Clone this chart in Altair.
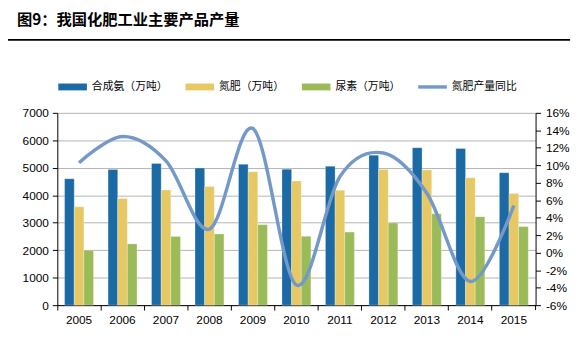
import altair as alt
import pandas as pd

years = ["2005", "2006", "2007", "2008", "2009", "2010", "2011", "2012", "2013", "2014", "2015"]
series_names = ["合成氨（万吨）", "氮肥（万吨）", "尿素（万吨）"]
line_name = "氮肥产量同比"
ammonia = [4600, 4940, 5160, 4990, 5130, 4950, 5060, 5460, 5730, 5700, 4820]
nitrogen = [3580, 3880, 4190, 4320, 4860, 4520, 4180, 4940, 4920, 4640, 4060]
urea = [2000, 2230, 2500, 2590, 2930, 2510, 2660, 2990, 3330, 3220, 2860]
yoy = [10.3, 13.3, 10.5, 2.7, 14.2, -3.7, 8.7, 11.4, 6.8, -3.3, 5.4]
left_ticks = [0, 1000, 2000, 3000, 4000, 5000, 6000, 7000]
right_ticks = [-6, -4, -2, 0, 2, 4, 6, 8, 10, 12, 14, 16]
colors = ["#1B6AA5", "#E6C865", "#9BBB59", "#7399C9"]
title_text = "图9：我国化肥工业主要产品产量"

rows = []
for s, vals in zip(series_names, [ammonia, nitrogen, urea]):
    for y, v in zip(years, vals):
        rows.append({"year": y, "series": s, "value": v})
bars_df = pd.DataFrame(rows)
line_df = pd.DataFrame({"year": years, "yoy": yoy, "series": [line_name] * len(years)})

NUM_FONT = "Liberation Sans Narrow, Arial Narrow, Liberation Sans, Arial"
CJK_FONT = "Noto Sans CJK SC"

xscale = alt.Scale(domain=years, paddingInner=0, paddingOuter=0)
color_scale = alt.Scale(domain=series_names + [line_name], range=colors)

bar_shape = "M-1,-0.24L1,-0.24L1,0.24L-1,0.24Z"
line_shape = "M-1,-0.12L1,-0.12L1,0.12L-1,0.12Z"

legend = alt.Legend(
    orient="none", legendX=1, legendY=-41, direction="horizontal", columns=4,
    title=None,
    symbolType={"expr": "datum.value === '" + line_name + "' ? '" + line_shape + "' : '" + bar_shape + "'"},
    symbolFillColor={"expr": "scale('color', datum.value)"},
    symbolSize=841, symbolStrokeWidth=0,
    labelFont=CJK_FONT, labelFontSize=11, labelColor="#000000", labelOffset=5,
    columnPadding=18, padding=0, labelLimit=200,
)

bars = alt.Chart(bars_df).mark_bar(stroke="#ffffff", strokeOpacity=0.35, strokeWidth=0.8).encode(
    x=alt.X("year:O", scale=xscale, sort=years,
            axis=alt.Axis(title=None, labelAngle=0, bandPosition=0, domainColor="#000000",
                          tickColor="#000000", tickSize=5, labelFont=NUM_FONT, labelFontSize=12,
                          labelColor="#000000", labelPadding=5, grid=False)),
    xOffset=alt.XOffset("series:N", scale=alt.Scale(domain=series_names, paddingInner=0, paddingOuter=0.755)),
    y=alt.Y("value:Q", scale=alt.Scale(domain=[0, 7000], nice=False),
            axis=alt.Axis(title=None, values=left_ticks, format="d", domainColor="#000000",
                          tickColor="#000000", tickSize=5, labelFont=NUM_FONT, labelFontSize=12,
                          labelColor="#000000", labelPadding=4, grid=True, gridColor="#b3b3b3",
                          gridWidth=1)),
    color=alt.Color("series:N", scale=color_scale, legend=legend),
)

line = alt.Chart(line_df).mark_line(strokeWidth=3.5, interpolate="cardinal").encode(
    x=alt.X("year:O", scale=xscale, sort=years, bandPosition=0.5),
    y=alt.Y("yoy:Q", scale=alt.Scale(domain=[-6, 16], nice=False),
            axis=alt.Axis(title=None, orient="right", values=right_ticks, labelExpr="datum.value + '%'",
                          domainColor="#000000", tickColor="#000000", tickSize=5, labelFont=NUM_FONT,
                          labelFontSize=12, labelColor="#000000", labelPadding=5, grid=False)),
    color=alt.Color("series:N", scale=color_scale, legend=legend),
)

deco_df = pd.DataFrame({"t": [title_text]})
title = alt.Chart(deco_df).mark_text(align="left", baseline="middle", font=CJK_FONT, fontSize=15.5,
                                     fontWeight="bold", color="#000000").encode(
    x=alt.value(-41), y=alt.value(-94), text="t:N")
hline = alt.Chart(deco_df).mark_rule(color="#000000", strokeWidth=2).encode(
    x=alt.value(-51), x2=alt.value(520), y=alt.value(-74))
end_tick = alt.Chart(deco_df).mark_rule(color="#000000", strokeWidth=1).encode(
    x=alt.value(485), y=alt.value(195), y2=alt.value(200))

chart = alt.layer(bars, line, title, hline, end_tick).resolve_scale(y="independent").properties(
    width=485, height=195,
    autosize=alt.AutoSizeParams(type="none"),
    padding={"left": 50, "top": 104, "right": 41, "bottom": 30},
).configure_view(stroke=None)

chart.save("out.html", embed_options={"renderer": "svg", "actions": False})
